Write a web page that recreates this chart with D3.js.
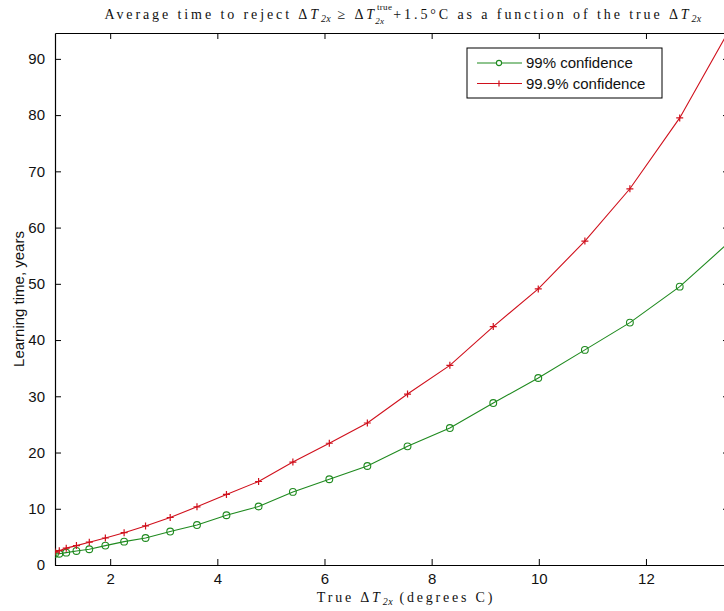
<!DOCTYPE html>
<html>
<head>
<meta charset="utf-8">
<script src="https://cdn.jsdelivr.net/npm/d3@7"></script>
<style>
  html, body { margin: 0; padding: 0; background: #fff; overflow: hidden; }
  svg { display: block; }
</style>
</head>
<body>
<div id="chart"></div>
<script>
// values
const trueDT = [0.97, 1.05, 1.18, 1.37, 1.61, 1.91, 2.26, 2.66, 3.12, 3.62, 4.17, 4.77, 5.41, 6.09, 6.80, 7.55, 8.34, 9.15, 9.99, 10.86, 11.70, 12.63, 13.53];
const conf99 = [2.0, 2.0, 2.2, 2.5, 2.8, 3.45, 4.15, 4.8, 5.95, 7.1, 8.85, 10.4, 13.0, 15.25, 17.6, 21.1, 24.35, 28.8, 33.25, 38.25, 43.1, 49.5, 57.2];
const conf999 = [2.3, 2.55, 3.0, 3.45, 4.05, 4.8, 5.75, 6.95, 8.45, 10.35, 12.55, 14.85, 18.3, 21.65, 25.25, 30.4, 35.5, 42.4, 49.1, 57.6, 66.9, 79.5, 94.7];
const xTicks = [2, 4, 6, 8, 10, 12];
const yTicks = [0, 10, 20, 30, 40, 50, 60, 70, 80, 90];
const seriesNames = ["99% confidence", "99.9% confidence"];

const width = 724;
const height = 611;
const plot = { left: 55, right: 729, top: 33, bottom: 565 };
const green = "#1f8a1f";
const red = "#d0101c";
const sans = "'Liberation Sans', Arial, Helvetica, sans-serif";
const serif = "'Liberation Serif', 'Times New Roman', serif";

const svg = d3.select("#chart").append("svg")
    .attr("width", width)
    .attr("height", height);

const x = d3.scaleLinear().domain([0.97, 13.55]).range([plot.left, plot.right]);
const y = d3.scaleLinear().domain([0, 94.6]).range([plot.bottom, plot.top]);

svg.append("defs").append("clipPath").attr("id", "clip")
    .append("rect")
    .attr("x", plot.left).attr("y", plot.top)
    .attr("width", plot.right - plot.left).attr("height", plot.bottom - plot.top);

// axes (ticks inward, box on)
const tickLen = 6;
const bottomAxis = svg.append("g")
    .attr("transform", `translate(0,${plot.bottom})`)
    .call(d3.axisBottom(x).tickValues(xTicks).tickSizeInner(-tickLen).tickSizeOuter(0).tickPadding(8));
const topAxis = svg.append("g")
    .attr("transform", `translate(0,${plot.top})`)
    .call(d3.axisTop(x).tickValues(xTicks).tickSizeInner(-tickLen).tickSizeOuter(0).tickFormat(""));
const leftAxis = svg.append("g")
    .attr("transform", `translate(${plot.left},0)`)
    .call(d3.axisLeft(y).tickValues(yTicks).tickSizeInner(-tickLen).tickSizeOuter(0).tickPadding(10));
const rightAxis = svg.append("g")
    .attr("transform", `translate(${plot.right},0)`)
    .call(d3.axisRight(y).tickValues(yTicks).tickSizeInner(-tickLen).tickSizeOuter(0).tickFormat(""));

[bottomAxis, topAxis, leftAxis, rightAxis].forEach(a => {
    a.select(".domain").attr("stroke", "#000").attr("stroke-width", 1.2);
    a.selectAll(".tick line").attr("stroke", "#000").attr("stroke-width", 1);
    a.selectAll("text")
        .attr("fill", "#111")
        .style("font-family", sans)
        .style("font-size", "15px");
});

// series
const line = d3.line()
    .x(d => x(d[0]))
    .y(d => y(d[1]));

const plotArea = svg.append("g").attr("clip-path", "url(#clip)");

const greenPts = trueDT.map((t, i) => [t, conf99[i]]);
const redPts = trueDT.map((t, i) => [t, conf999[i]]);

plotArea.append("path")
    .datum(greenPts)
    .attr("d", line)
    .attr("fill", "none")
    .attr("stroke", green)
    .attr("stroke-width", 1.1);

plotArea.selectAll("circle.m99")
    .data(greenPts)
    .enter()
    .append("circle")
    .attr("class", "m99")
    .attr("cx", d => x(d[0]))
    .attr("cy", d => y(d[1]))
    .attr("r", 3.4)
    .attr("fill", "none")
    .attr("stroke", green)
    .attr("stroke-width", 1.1);

plotArea.append("path")
    .datum(redPts)
    .attr("d", line)
    .attr("fill", "none")
    .attr("stroke", red)
    .attr("stroke-width", 1.1);

const plus = (sel, s) => sel.attr("d", `M${-s},0H${s}M0,${-s}V${s}`);

plotArea.selectAll("path.m999")
    .data(redPts)
    .enter()
    .append("path")
    .attr("class", "m999")
    .attr("transform", d => `translate(${x(d[0])},${y(d[1])})`)
    .call(plus, 3.5)
    .attr("stroke", red)
    .attr("stroke-width", 1.2);

// legend
const legend = svg.append("g").attr("transform", "translate(467,48)");
legend.append("rect")
    .attr("width", 195).attr("height", 50)
    .attr("fill", "#fff").attr("stroke", "#000").attr("stroke-width", 1);

seriesNames.forEach((name, i) => {
    const color = i === 0 ? green : red;
    const cy = 15 + i * 20.5;
    const row = legend.append("g");
    row.append("line")
        .attr("x1", 10).attr("x2", 55)
        .attr("y1", cy).attr("y2", cy)
        .attr("stroke", color).attr("stroke-width", 1.1);
    if (i === 0) {
        row.append("circle").attr("cx", 32).attr("cy", cy).attr("r", 2.6)
            .attr("fill", "#fff").attr("stroke", color).attr("stroke-width", 1.1);
    } else {
        row.append("path").attr("transform", `translate(32,${cy})`)
            .call(plus, 3).attr("stroke", color).attr("stroke-width", 1.2);
    }
    row.append("text")
        .attr("x", 59).attr("y", cy + 5)
        .style("font-family", sans)
        .style("font-size", "15px")
        .attr("fill", "#111")
        .text(name);
});

// y label
svg.append("text")
    .attr("transform", `translate(24,${(plot.top + plot.bottom) / 2}) rotate(-90)`)
    .attr("text-anchor", "middle")
    .style("font-family", sans)
    .style("font-size", "15px")
    .attr("fill", "#111")
    .text("Learning time, years");

// x label (TeX-like)
const xl = svg.append("text")
    .attr("x", 406).attr("y", 602)
    .attr("text-anchor", "middle")
    .style("font-family", serif)
    .style("font-size", "14px")
    .style("letter-spacing", "2.8px")
    .attr("fill", "#111");
xl.append("tspan").text("True \u0394");
xl.append("tspan").style("font-style", "italic").text("T");
xl.append("tspan").attr("dy", 3).style("font-size", "10px").style("font-style", "italic").style("letter-spacing", "0.5px").text("2x");
xl.append("tspan").attr("dy", -3).text(" (degrees C)");

// title (TeX-like)
const title = svg.append("text")
    .attr("x", 403).attr("y", 19)
    .attr("text-anchor", "middle")
    .style("font-family", serif)
    .style("font-size", "14px")
    .style("letter-spacing", "2.9px")
    .attr("fill", "#111");
title.append("tspan").text("Average time to reject \u0394");
title.append("tspan").style("font-style", "italic").text("T");
title.append("tspan").attr("dy", 3).style("font-size", "10px").style("font-style", "italic").style("letter-spacing", "0.3px").text("2x");
title.append("tspan").attr("dy", -3).text(" \u2265 \u0394");
title.append("tspan").style("font-style", "italic").text("T");
title.append("tspan").attr("dy", -9).style("font-size", "9px").style("letter-spacing", "0.3px").text("true");
title.append("tspan").attr("dx", -17).attr("dy", 14).style("font-size", "9px").style("font-style", "italic").style("letter-spacing", "0.3px").text("2x");
title.append("tspan").attr("dx", 9).attr("dy", -5).text("+1.5\u00B0C as a function of the true \u0394");
title.append("tspan").style("font-style", "italic").text("T");
title.append("tspan").attr("dy", 3).style("font-size", "10px").style("font-style", "italic").style("letter-spacing", "0.3px").text("2x");
</script>
</body>
</html>
